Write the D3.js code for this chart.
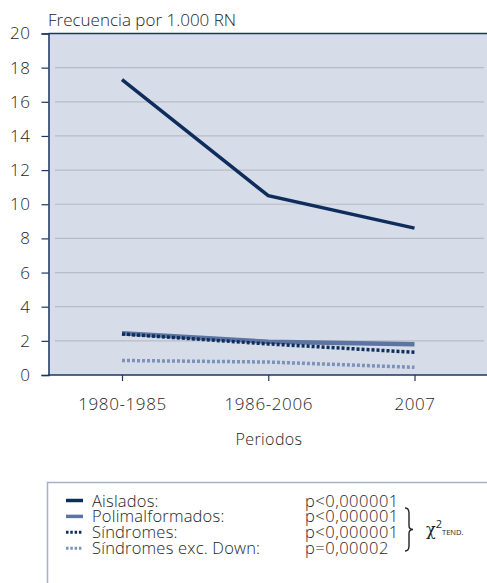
<!DOCTYPE html>
<html>
<head>
<meta charset="utf-8">
<script src="https://cdn.jsdelivr.net/npm/d3@7"></script>
<style>
  body { margin: 0; background: #fff; }
  svg { display: block; font-family: "Open Sans", sans-serif; font-weight: 300; }
</style>
</head>
<body>
<div id="chart"></div>
<script>
// data
const periods = ["1980-1985", "1986-2006", "2007"];
const aislados = [17.3, 10.5, 8.6];
const polimalformados = [2.44, 1.95, 1.8];
const sindromes = [2.4, 1.82, 1.33];
const sindromesExcDown = [0.85, 0.76, 0.45];
const yTicks = [0, 2, 4, 6, 8, 10, 12, 14, 16, 18, 20];
const legendLabels = ["Aislados:", "Polimalformados:", "Síndromes:", "Síndromes exc. Down:"];
const pValues = ["p<0,000001", "p<0,000001", "p<0,000001", "p=0,00002"];

const series = [
  {name: legendLabels[0], values: aislados, color: "#0f2d5c", width: 3.5, dash: null},
  {name: legendLabels[1], values: polimalformados, color: "#5b74a1", width: 4.5, dash: null},
  {name: legendLabels[2], values: sindromes, color: "#0f2d5c", width: 3.5, dash: "3,2"},
  {name: legendLabels[3], values: sindromesExcDown, color: "#7d92bb", width: 3.5, dash: "3,2"}
];

const textColor = "#1e1e1e";
const W = 487, H = 583;
const svg = d3.select("#chart").append("svg")
  .attr("width", W).attr("height", H);

const plot = {left: 48.5, top: 33.5, right: 487, bottom: 375};

const x = d3.scalePoint().domain(periods).range([122, 414.5]);
const y = d3.scaleLinear().domain([0, 20]).range([plot.bottom, plot.top]);

// plot background
svg.append("rect")
  .attr("x", plot.left).attr("y", plot.top)
  .attr("width", plot.right - plot.left).attr("height", plot.bottom - plot.top)
  .attr("fill", "#d6dce8");

// gridlines
svg.append("g").selectAll("line")
  .data(yTicks.filter(d => d > 0 && d < 20))
  .join("line")
  .attr("x1", 55).attr("x2", 484)
  .attr("y1", d => y(d)).attr("y2", d => y(d))
  .attr("stroke", "#b9bcc3").attr("stroke-width", 1.2);

// top border
svg.append("line")
  .attr("x1", plot.left).attr("x2", plot.right)
  .attr("y1", plot.top).attr("y2", plot.top)
  .attr("stroke", "#1d3563").attr("stroke-width", 1.5);

// y axis
const yAxis = svg.append("g")
  .attr("transform", `translate(${plot.left},0)`)
  .call(d3.axisLeft(y).tickValues(yTicks).tickSize(7).tickPadding(11));
yAxis.select(".domain").attr("stroke", "#1d3563").attr("stroke-width", 1.5);
yAxis.selectAll(".tick line").attr("stroke", "#1d3563").attr("stroke-width", 1.2);
yAxis.selectAll("text").attr("font-size", 17).attr("fill", textColor)
  .attr("font-family", "Open Sans").attr("letter-spacing", 0.6);

// x axis
const xAxis = svg.append("g")
  .attr("transform", `translate(0,${plot.bottom})`)
  .call(d3.axisBottom(x).tickSize(6).tickPadding(17));
xAxis.select(".domain").attr("d", `M${plot.left},0H${plot.right}`)
  .attr("stroke", "#1d3563").attr("stroke-width", 1.5);
xAxis.selectAll(".tick line").attr("stroke", "#1d3563").attr("stroke-width", 1.2);
xAxis.selectAll("text").attr("font-size", 17).attr("fill", textColor)
  .attr("font-family", "Open Sans").attr("letter-spacing", 0.6);

// titles
svg.append("text")
  .attr("x", 48).attr("y", 26)
  .attr("font-size", 17).attr("fill", textColor)
  .text("Frecuencia por 1.000 RN");

svg.append("text")
  .attr("x", 269).attr("y", 445)
  .attr("text-anchor", "middle")
  .attr("font-size", 16).attr("fill", textColor)
  .attr("letter-spacing", 0.4)
  .text("Periodos");

// lines
const line = d3.line()
  .x((d, i) => x(periods[i]))
  .y(d => y(d));

svg.append("g").selectAll("path")
  .data(series)
  .join("path")
  .attr("d", d => line(d.values))
  .attr("fill", "none")
  .attr("stroke", d => d.color)
  .attr("stroke-width", d => d.width)
  .attr("stroke-dasharray", d => d.dash);

// legend box
const legend = svg.append("g");
legend.append("path")
  .attr("d", `M47.5,583V482.5H487`)
  .attr("fill", "none")
  .attr("stroke", "#a3b1ca").attr("stroke-width", 1.5);

const rows = legend.selectAll("g.row")
  .data(series)
  .join("g")
  .attr("class", "row")
  .attr("transform", (d, i) => `translate(0,${500.5 + i * 15.9})`);

rows.append("line")
  .attr("x1", 66).attr("x2", 83)
  .attr("y1", 0).attr("y2", 0)
  .attr("stroke", d => d.color)
  .attr("stroke-width", d => d.dash ? 3 : 3.5)
  .attr("stroke-dasharray", d => d.dash ? "2.5,1.8" : null);

rows.append("text")
  .attr("x", 92).attr("y", 6)
  .attr("font-size", 16.5).attr("fill", textColor)
  .attr("letter-spacing", 0.2)
  .text(d => d.name);

rows.append("text")
  .attr("x", 305).attr("y", 6)
  .attr("font-size", 16.5).attr("fill", textColor)
  .attr("letter-spacing", 0.5)
  .text((d, i) => pValues[i]);

// brace
const bx = 405, by0 = 508, by1 = 551, bm = (by0 + by1) / 2;
legend.append("path")
  .attr("d", `M${bx},${by0} Q${bx + 4},${by0} ${bx + 4},${by0 + 5} L${bx + 4},${bm - 4} Q${bx + 4},${bm} ${bx + 8},${bm} Q${bx + 4},${bm} ${bx + 4},${bm + 4} L${bx + 4},${by1 - 5} Q${bx + 4},${by1} ${bx},${by1}`)
  .attr("fill", "none").attr("stroke", "#222").attr("stroke-width", 1.4);

const chi = legend.append("text")
  .attr("x", 426).attr("y", 535)
  .attr("fill", textColor);
chi.append("tspan").attr("font-size", 16).attr("font-family", "DejaVu Serif").text("χ");
chi.append("tspan").attr("font-size", 11).attr("font-weight", 400).attr("dy", -7).text("2");
chi.append("tspan").attr("font-size", 7.5).attr("font-weight", 400).attr("dy", 7).text("TEND.");
</script>
</body>
</html>
